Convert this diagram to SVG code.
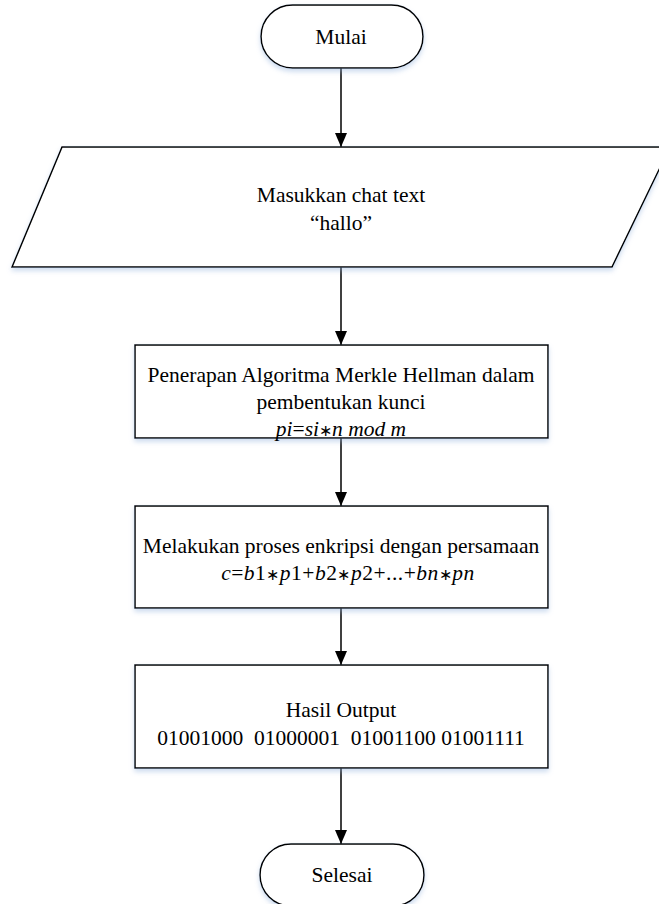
<svg xmlns="http://www.w3.org/2000/svg" width="659" height="904" viewBox="0 0 659 904">
  <defs>
    <filter id="soft" x="-10%" y="-20%" width="120%" height="150%">
      <feDropShadow dx="0" dy="3" stdDeviation="2.5" flood-color="#8fb0dc" flood-opacity="0.45"/>
    </filter>
    <marker id="arrow" viewBox="0 0 14 12" markerWidth="14" markerHeight="12" refX="14" refY="6" orient="auto" markerUnits="userSpaceOnUse">
      <path d="M0,0 L14,6 L0,12 Z" fill="#000"/>
    </marker>
  </defs>
  <style>
    .shape { fill: #fff; stroke: #000; stroke-width: 1.5; filter: url(#soft); }
    .label { font-family: "Liberation Serif", "Times New Roman", serif; font-size: 21.5px; fill: #000; text-anchor: middle; }
    .math { font-style: italic; }
    .wide { letter-spacing: 0.5px; }
    .up { font-style: normal; }
    .op { font-style: normal; font-size: 16px; }
    .link { stroke: #000; stroke-width: 1.5; fill: none; marker-end: url(#arrow); }
  </style>
  <rect width="659" height="904" fill="#fff"/>

  <g id="connectors">
    <line class="link" x1="341" y1="68" x2="341" y2="147"/>
    <line class="link" x1="341" y1="267" x2="341" y2="345"/>
    <line class="link" x1="341" y1="438" x2="341" y2="506"/>
    <line class="link" x1="341" y1="608" x2="341" y2="665"/>
    <line class="link" x1="341" y1="768" x2="341" y2="844"/>
  </g>

  <g id="start">
    <rect class="shape" x="261" y="5" width="162" height="63" rx="31.5" ry="31.5"/>
    <text class="label" x="341" y="44">Mulai</text>
  </g>

  <g id="input">
    <polygon class="shape" points="62,147 670,147 612,267 12,267"/>
    <text class="label" x="341" y="202">Masukkan chat text</text>
    <text class="label" x="341" y="230">“hallo”</text>
  </g>

  <g id="key-generation">
    <rect class="shape" x="135" y="345" width="413" height="93"/>
    <text class="label" x="341" y="382">Penerapan Algoritma Merkle Hellman dalam</text>
    <text class="label" x="341" y="409">pembentukan kunci</text>
    <text class="label math" x="341" y="436">pi<tspan class="up">=</tspan>si<tspan class="op">∗</tspan>n mod m</text>
  </g>

  <g id="encryption">
    <rect class="shape" x="135" y="506" width="413" height="102"/>
    <text class="label" x="341" y="553">Melakukan proses enkripsi dengan persamaan</text>
    <text class="label math wide" x="348" y="580">c<tspan class="up">=</tspan>b<tspan class="up">1</tspan><tspan class="op">∗</tspan>p<tspan class="up">1+</tspan>b<tspan class="up">2</tspan><tspan class="op">∗</tspan>p<tspan class="up">2+...+</tspan>bn<tspan class="op">∗</tspan>pn</text>
  </g>

  <g id="output">
    <rect class="shape" x="135" y="665" width="413" height="103"/>
    <text class="label" x="341" y="717">Hasil Output</text>
    <text class="label" x="341" y="745" xml:space="preserve">01001000  01000001  01001100 01001111</text>
  </g>

  <g id="end">
    <rect class="shape" x="260" y="844" width="164" height="62" rx="31" ry="31"/>
    <text class="label" x="342" y="882">Selesai</text>
  </g>
</svg>
